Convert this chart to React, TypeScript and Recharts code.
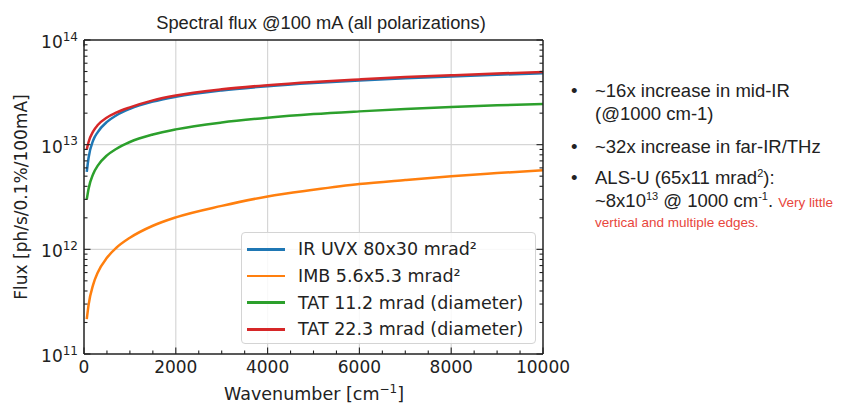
import React from 'react';
import { LineChart, Line, XAxis, YAxis, CartesianGrid, Legend } from 'recharts';

// wavenumber [cm-1] and flux [ph/s/0.1%/100mA]
const wavenumber = [60, 100, 200, 300, 500, 700, 1000, 1500, 2000, 3000, 4000, 5000, 6000, 7000, 8000, 9000, 10000];
const irUvx = [5.5e12, 7.5e12, 1.1e13, 1.32e13, 1.65e13, 1.9e13, 2.2e13, 2.58e13, 2.87e13, 3.3e13, 3.62e13, 3.88e13, 4.1e13, 4.3e13, 4.48e13, 4.65e13, 4.82e13];
const imb = [2.15e11, 2.95e11, 4.6e11, 6.0e11, 8.3e11, 1.03e12, 1.29e12, 1.68e12, 2.02e12, 2.6e12, 3.2e12, 3.7e12, 4.2e12, 4.6e12, 5.0e12, 5.35e12, 5.7e12];
const tat11 = [3.0e12, 3.8e12, 5.25e12, 6.3e12, 7.9e12, 9.1e12, 1.06e13, 1.25e13, 1.4e13, 1.63e13, 1.81e13, 1.96e13, 2.08e13, 2.19e13, 2.29e13, 2.38e13, 2.45e13];
const tat22 = [9.0e12, 1.06e13, 1.34e13, 1.54e13, 1.82e13, 2.02e13, 2.27e13, 2.65e13, 2.95e13, 3.38e13, 3.7e13, 3.97e13, 4.2e13, 4.42e13, 4.6e13, 4.78e13, 4.95e13];

const seriesKeys = ['irUvx', 'imb', 'tat11', 'tat22'];
const seriesNames = ['IR UVX 80x30 mrad²', 'IMB 5.6x5.3 mrad²', 'TAT 11.2 mrad (diameter)', 'TAT 22.3 mrad (diameter)'];
const seriesColors = ['#1f77b4', '#ff7f0e', '#2ca02c', '#d62728'];

const xTicks = [0, 500, 1000, 1500, 2000, 2500, 3000, 3500, 4000, 4500, 5000, 5500, 6000, 6500, 7000, 7500, 8000, 8500, 9000, 9500, 10000];
const xMajor = [2000, 4000, 6000, 8000];
const yTicks = [
  1e11, 2e11, 3e11, 4e11, 5e11, 6e11, 7e11, 8e11, 9e11,
  1e12, 2e12, 3e12, 4e12, 5e12, 6e12, 7e12, 8e12, 9e12,
  1e13, 2e13, 3e13, 4e13, 5e13, 6e13, 7e13, 8e13, 9e13,
  1e14,
];
const yMajor = [1e12, 1e13];

const data = wavenumber.map((w, i) => ({
  w,
  irUvx: irUvx[i],
  imb: imb[i],
  tat11: tat11[i],
  tat22: tat22[i],
}));

const FONT = 'DejaVu Sans, sans-serif';
const SLIDE_FONT = 'Liberation Sans, Arial, sans-serif';
const INK = '#222';

const isMajorX = (v: number) => v % 2000 === 0;
const isMajorY = (v: number) => {
  const l = Math.log10(v);
  return Math.abs(l - Math.round(l)) < 1e-9;
};

const BottomTick = ({ x, y, payload }: any) => {
  const major = isMajorX(payload.value);
  return (
    <g>
      <line x1={x} y1={y} x2={x} y2={y - (major ? 6.5 : 3.5)} stroke={INK} strokeWidth={1.1} />
      {major && (
        <text x={x} y={y + 18.5} textAnchor='middle' fontSize={17} fontFamily={FONT} fill={INK}>
          {payload.value}
        </text>
      )}
    </g>
  );
};

const TopTick = ({ x, y, payload }: any) => {
  const major = isMajorX(payload.value);
  return <line x1={x} y1={y} x2={x} y2={y + (major ? 6.5 : 3.5)} stroke={INK} strokeWidth={1.1} />;
};

const LeftTick = ({ x, y, payload }: any) => {
  const major = isMajorY(payload.value);
  const exp = Math.round(Math.log10(payload.value));
  return (
    <g>
      <line x1={x} y1={y} x2={x + (major ? 6.5 : 3.5)} y2={y} stroke={INK} strokeWidth={1.1} />
      {major && (
        <text x={x - 6} y={y + 8} textAnchor='end' fontSize={17} fontFamily={FONT} fill={INK}>
          10
          <tspan dy={-7.5} fontSize={12}>
            {exp}
          </tspan>
        </text>
      )}
    </g>
  );
};

const RightTick = ({ x, y, payload }: any) => {
  const major = isMajorY(payload.value);
  return <line x1={x} y1={y} x2={x - (major ? 6.5 : 3.5)} y2={y} stroke={INK} strokeWidth={1.1} />;
};

const LegendBox = ({ payload }: any) => {
  const items = [...(payload || [])].sort(
    (a: any, b: any) => seriesNames.indexOf(a.value) - seriesNames.indexOf(b.value)
  );
  return (
    <div
      style={{
        background: 'rgba(255,255,255,0.85)',
        border: '1px solid #d4d4d4',
        borderRadius: 4,
        padding: '3px 0',
        width: 295,
        height: 112,
        boxSizing: 'border-box',
      }}
    >
      {items.map((entry: any) => (
        <div key={entry.value} style={{ display: 'flex', alignItems: 'center', height: 26.7 }}>
          <div style={{ width: 38, height: 2.8, background: entry.color, marginLeft: 5 }} />
          <span style={{ marginLeft: 13, fontFamily: FONT, fontSize: 17.5, color: INK, whiteSpace: 'nowrap' }}>
            {entry.value}
          </span>
        </div>
      ))}
    </div>
  );
};

export default function App() {
  return (
    <div style={{ position: 'absolute', left: 0, top: 0, width: 843, height: 403, background: '#fff', overflow: 'hidden' }}>
      <div
        style={{
          position: 'absolute',
          left: 321,
          top: 13,
          transform: 'translateX(-50%)',
          fontFamily: SLIDE_FONT,
          fontSize: 18.3,
          lineHeight: '20px',
          color: INK,
          whiteSpace: 'nowrap',
        }}
      >
        Spectral flux @100 mA (all polarizations)
      </div>

      <LineChart width={843} height={403} data={data} margin={{ top: 39, left: 14, right: 299, bottom: 9 }}>
        <CartesianGrid
          xAxisId='x'
          yAxisId='y'
          stroke='#d6d6d6'
          strokeWidth={1.2}
          verticalValues={xMajor}
          horizontalValues={yMajor}
        />
        <XAxis
          xAxisId='x'
          dataKey='w'
          type='number'
          domain={[0, 10000]}
          ticks={xTicks}
          interval={0}
          height={40}
          tickSize={0}
          tickMargin={0}
          tickLine={false}
          tick={<BottomTick />}
          axisLine={{ stroke: INK, strokeWidth: 1.5 }}
          allowDataOverflow
        />
        <XAxis
          xAxisId='xt'
          orientation='top'
          type='number'
          domain={[0, 10000]}
          ticks={xTicks}
          interval={0}
          height={1}
          tickSize={0}
          tickMargin={0}
          tickLine={false}
          tick={<TopTick />}
          axisLine={{ stroke: INK, strokeWidth: 1.5 }}
          allowDataOverflow
        />
        <YAxis
          yAxisId='y'
          type='number'
          scale='log'
          domain={[1e11, 1e14]}
          ticks={yTicks}
          interval={0}
          width={70}
          tickSize={0}
          tickMargin={0}
          tickLine={false}
          tick={<LeftTick />}
          axisLine={{ stroke: INK, strokeWidth: 1.5 }}
          allowDataOverflow
        />
        <YAxis
          yAxisId='yr'
          orientation='right'
          type='number'
          scale='log'
          domain={[1e11, 1e14]}
          ticks={yTicks}
          interval={0}
          width={1}
          tickSize={0}
          tickMargin={0}
          tickLine={false}
          tick={<RightTick />}
          axisLine={{ stroke: INK, strokeWidth: 1.5 }}
          allowDataOverflow
        />
        <Legend
          layout='vertical'
          align='center'
          verticalAlign='middle'
          content={<LegendBox />}
          wrapperStyle={{ left: 241, top: 232, width: 295, height: 112 }}
        />
        {seriesKeys.map((key, i) => (
          <Line
            key={key}
            xAxisId='x'
            yAxisId='y'
            type='monotone'
            dataKey={key}
            name={seriesNames[i]}
            stroke={seriesColors[i]}
            strokeWidth={2.5}
            dot={false}
            isAnimationActive={false}
          />
        ))}
      </LineChart>

      <div
        style={{
          position: 'absolute',
          left: 20.5,
          top: 197,
          transform: 'translate(-50%, -50%) rotate(-90deg)',
          fontFamily: FONT,
          fontSize: 17,
          color: INK,
          whiteSpace: 'nowrap',
        }}
      >
        Flux [ph/s/0.1%/100mA]
      </div>
      <div
        style={{
          position: 'absolute',
          left: 314,
          top: 394,
          transform: 'translate(-50%, -50%)',
          fontFamily: FONT,
          fontSize: 17.5,
          color: INK,
          whiteSpace: 'nowrap',
        }}
      >
        Wavenumber [cm<sup style={{ fontSize: 12, lineHeight: 0 }}>−1</sup>]
      </div>

      <div style={{ position: 'absolute', left: 571, top: 79, fontFamily: SLIDE_FONT, fontSize: 18.5, color: INK, lineHeight: '23px' }}>
        <div style={{ display: 'flex' }}>
          <span style={{ width: 24 }}>•</span>
          <div>
            ~16x increase in mid-IR
            <br />
            (@1000 cm-1)
          </div>
        </div>
        <div style={{ display: 'flex', marginTop: 10 }}>
          <span style={{ width: 24 }}>•</span>
          <div>~32x increase in far-IR/THz</div>
        </div>
        <div style={{ display: 'flex', marginTop: 8 }}>
          <span style={{ width: 24 }}>•</span>
          <div style={{ whiteSpace: 'nowrap' }}>
            ALS-U (65x11 mrad<sup style={{ fontSize: 11, lineHeight: 0 }}>2</sup>):
            <br />
            ~8x10<sup style={{ fontSize: 11, lineHeight: 0 }}>13</sup> @ 1000 cm<sup style={{ fontSize: 11, lineHeight: 0 }}>-1</sup>.{' '}
            <span style={{ color: '#e8463c', fontSize: 13.5 }}>Very little</span>
            <div style={{ color: '#e8463c', fontSize: 13.5, lineHeight: '17px' }}>vertical and multiple edges.</div>
          </div>
        </div>
      </div>
    </div>
  );
}
